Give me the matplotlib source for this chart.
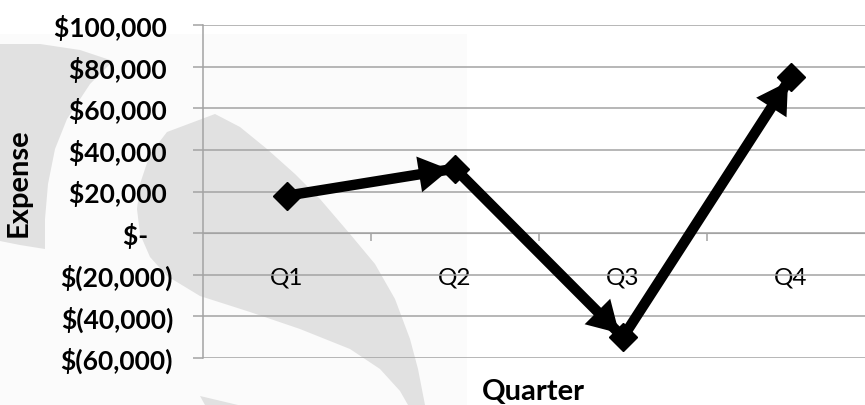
import matplotlib.pyplot as plt
from matplotlib.patches import Polygon, Rectangle

quarters = ['Q1', 'Q2', 'Q3', 'Q4']
expense = [18000, 31000, -50000, 75000]
yticks = [-60000, -40000, -20000, 0, 20000, 40000, 60000, 80000, 100000]
ytick_labels = ['$(60,000)', '$(40,000)', '$(20,000)', '$-    ',
                '$20,000 ', '$40,000 ', '$60,000 ', '$80,000 ', '$100,000 ']

plt.rcParams['font.family'] = ['Lato', 'DejaVu Sans']

W, H = 865, 406
fig = plt.figure(figsize=(W / 100, H / 100), dpi=100)
fig.patch.set_facecolor('white')

def px(pts):
    return [(x / W, 1 - y / H) for x, y in pts]

def bg(shape):
    fig.patches.append(Polygon(px(shape), closed=True, transform=fig.transFigure,
                               facecolor='#e1e1e1', edgecolor='none', zorder=-10))

# watermark swooshes in the background
fig.patches.append(Rectangle((0, 0), 467 / W, 1 - 35 / H, transform=fig.transFigure,
                             facecolor='#fbfbfb', edgecolor='none', zorder=-11))
bg([(0, 45), (40, 45), (80, 51), (113, 62), (90, 85), (67, 120), (55, 150),
    (48, 185), (45, 220), (45, 250), (20, 246), (0, 242)])
bg([(215, 115), (167, 133), (150, 155), (140, 185), (137, 210), (140, 235),
    (150, 258), (167, 277), (200, 297), (250, 313), (300, 330), (350, 350),
    (380, 370), (400, 392), (408, 406), (425, 406), (418, 370), (410, 340),
    (395, 300), (375, 265), (350, 235), (320, 200), (295, 175), (267, 150),
    (240, 128)])
bg([(200, 397), (238, 406), (205, 406)])

ax = fig.add_axes([203 / W, 1 - 359 / H, 672 / W, 333 / H])
ax.set_facecolor('none')

x = list(range(len(quarters)))
ax.plot(x, expense, color='black', lw=7.5, marker='D', markersize=14,
        solid_joinstyle='miter', zorder=3)
for i in range(len(x) - 1):
    ax.annotate('', xy=(x[i + 1], expense[i + 1]), xytext=(x[i], expense[i]),
                arrowprops=dict(arrowstyle='-|>,head_length=0.85,head_width=0.5',
                                mutation_scale=26, lw=0, color='black',
                                shrinkA=0, shrinkB=4), zorder=4)

ax.set_xlim(-0.5, 3.5)
ax.set_ylim(-60000, 100000)
ax.set_yticks(yticks)
ax.set_yticklabels(ytick_labels)
ax.set_xticks(x)
ax.set_xticklabels(quarters)
ax.set_xticks([0.5, 1.5, 2.5], minor=True)

grid_c = '#a3a3a3'
ax.grid(axis='y', color=grid_c, lw=1.1)
ax.set_axisbelow(True)
for s in ['top', 'right']:
    ax.spines[s].set_visible(False)
ax.spines['bottom'].set_position(('data', 0))
ax.spines['bottom'].set_color(grid_c)
ax.spines['left'].set_color(grid_c)
ax.spines['left'].set_linewidth(1.1)

ax.tick_params(axis='y', length=7.5, width=1.1, color=grid_c, pad=14,
               labelsize=19)
for lab in ax.get_yticklabels():
    lab.set_fontweight('bold')
ax.tick_params(axis='x', which='major', length=0, pad=24, labelsize=17.5)
ax.tick_params(axis='x', which='minor', length=6, width=1.1, color=grid_c,
               direction='out')

ax.set_ylabel('Expense', fontsize=21, fontweight='bold')
ax.yaxis.set_label_coords(-0.2545, 0.53)
fig.text(533 / W, 1 - 392 / H, 'Quarter', fontsize=21, fontweight='bold',
         ha='center', va='center')

fig.savefig('out.png', dpi=100)
